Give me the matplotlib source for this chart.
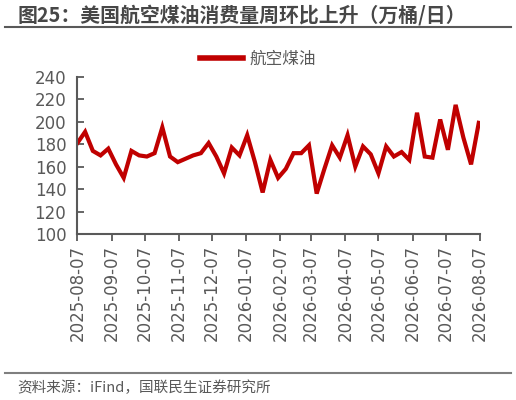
import numpy as np
import pandas as pd
import matplotlib
matplotlib.use("Agg")
import matplotlib.pyplot as plt
import matplotlib.dates as mdates
from matplotlib.lines import Line2D

plt.rcParams['font.family'] = ['Noto Sans CJK SC', 'DejaVu Sans']

# weekly jet fuel consumption (10k bbl/day)
dates = pd.date_range('2025-08-07', periods=53, freq='7D')
jet_fuel = [181, 191, 174, 170, 176, 162, 150, 174, 170, 169,
            172, 195, 169, 164, 167, 170, 172, 181, 169, 154,
            177, 170, 188, 164, 137, 166, 150, 158, 172, 172,
            179, 136, 158, 179, 168, 188, 160, 178, 171, 154,
            178, 169, 173, 166, 208, 169, 168, 202, 175, 215,
            186, 162, 199]
tick_dates = pd.date_range('2025-08-01', '2026-08-01', freq='MS') + pd.Timedelta(days=6)
y_ticks = [100, 120, 140, 160, 180, 200, 220, 240]

title = '图25：美国航空煤油消费量周环比上升（万桶/日）'
series_name = '航空煤油'
source = '资料来源：iFind，国联民生证券研究所'

red = '#C00000'
grey = '#595959'

fig = plt.figure(figsize=(5.16, 4.0), dpi=100)
ax = fig.add_axes([0.150, 0.415, 0.780, 0.393])

ax.plot(dates, jet_fuel, color=red, lw=3.0, solid_joinstyle='miter')

ax.set_ylim(100, 240)
ax.set_yticks(y_ticks)
ax.set_xlim(pd.Timestamp('2025-08-07'), pd.Timestamp('2026-08-07'))
ax.set_xticks(tick_dates)
ax.xaxis.set_major_formatter(mdates.DateFormatter('%Y-%m-%d'))

for lab in ax.get_xticklabels():
    lab.set_rotation(90)
    lab.set_family('DejaVu Sans')
for lab in ax.get_yticklabels():
    lab.set_family('DejaVu Sans')

ax.tick_params(axis='y', direction='in', length=5, width=1.3, colors=grey,
               labelsize=12, pad=8)
ax.tick_params(axis='x', direction='out', length=5, width=1.3, colors=grey,
               labelsize=12, pad=3)
for s in ['top', 'right']:
    ax.spines[s].set_visible(False)
for s in ['left', 'bottom']:
    ax.spines[s].set_color(grey)
    ax.spines[s].set_linewidth(1.5)

# legend
handle = Line2D([], [], color=red, lw=4)
fig.legend([handle], [series_name], loc='center', bbox_to_anchor=(0.50, 0.852),
           frameon=False, fontsize=12, handlelength=2.6, handletextpad=0.4,
           labelcolor=grey)

# title, rules and source
fig.text(0.034, 0.962, title, fontsize=14.3, fontweight='bold', color='#474747',
         va='center', ha='left')
fig.add_artist(Line2D([0.01, 0.99], [0.933, 0.933], color=grey, lw=1.5))
fig.add_artist(Line2D([0.01, 0.99], [0.068, 0.068], color='#7f7f7f', lw=1.5))
fig.text(0.033, 0.030, source, fontsize=10.5, color=grey, va='center', ha='left')

fig.savefig('out.png', dpi=100)
